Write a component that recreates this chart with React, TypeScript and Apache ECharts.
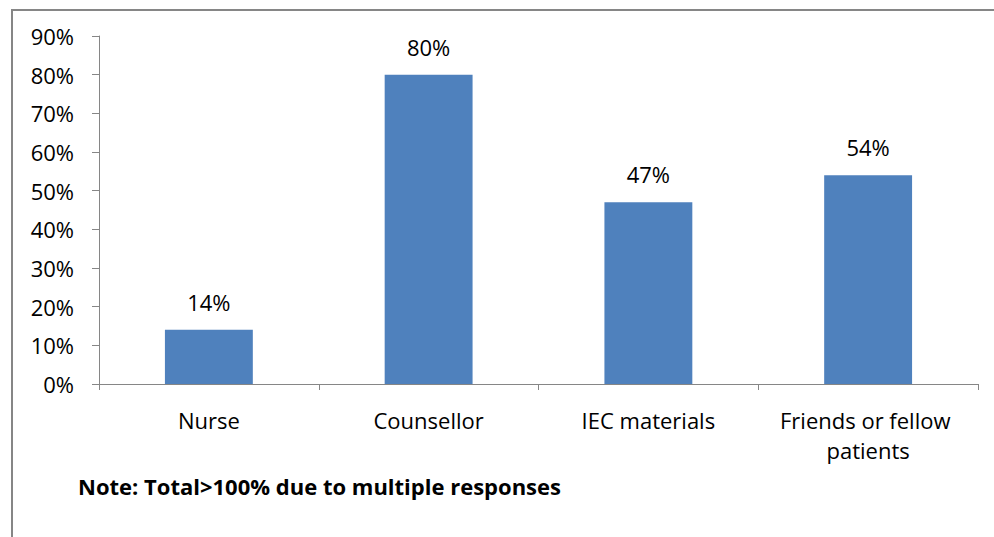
import React, { useEffect, useRef } from "react";
import * as echarts from "echarts";

const categories = ["Nurse", "Counsellor", "IEC materials", "Friends or fellow patients"];
const shares = [14, 80, 47, 54];
const yTicks = [0, 10, 20, 30, 40, 50, 60, 70, 80, 90];
const note = "Note: Total>100% due to multiple responses";

const FONT = "'Open Sans', 'Noto Sans', sans-serif";
const SIZE = 22;

export default function App() {
  const ref = useRef<HTMLDivElement>(null);

  useEffect(() => {
    if (!ref.current) return;
    const chart = echarts.init(ref.current, undefined, { renderer: "svg" });
    chart.setOption({
      animation: false,
      backgroundColor: "#ffffff",
      textStyle: { fontFamily: FONT },
      grid: { left: 99, right: 16, top: 36, bottom: 153, containLabel: false },
      graphic: [
        {
          type: "rect",
          shape: { x: 12, y: 10, width: 1000, height: 600 },
          style: { fill: "none", stroke: "#868686", lineWidth: 2 },
          silent: true,
        },
        {
          type: "text",
          left: 78,
          top: 475,
          style: {
            text: note,
            font: `bold ${SIZE}px ${FONT}`,
            fill: "#000000",
          },
        },
      ],
      xAxis: {
        type: "category",
        data: categories,
        axisLine: { lineStyle: { color: "#868686", width: 1 } },
        axisTick: { show: true, length: 6, alignWithLabel: false, lineStyle: { color: "#868686" } },
        axisLabel: {
          color: "#000000",
          fontSize: SIZE,
          fontFamily: FONT,
          margin: 21,
          lineHeight: 30,
          width: 210,
          overflow: "break",
          interval: 0,
        },
        splitLine: { show: false },
      },
      yAxis: {
        type: "value",
        min: yTicks[0],
        max: yTicks[yTicks.length - 1],
        interval: 10,
        axisLine: { show: true, lineStyle: { color: "#868686", width: 1 } },
        axisTick: { show: true, length: 7, lineStyle: { color: "#868686" } },
        axisLabel: {
          color: "#000000",
          fontSize: SIZE,
          fontFamily: FONT,
          margin: 25,
          formatter: "{value}%",
        },
        splitLine: { show: false },
      },
      series: [
        {
          type: "bar",
          data: shares,
          barWidth: "40%",
          itemStyle: { color: "#4F81BD" },
          label: {
            show: true,
            position: "top",
            distance: 17,
            formatter: "{c}%",
            color: "#000000",
            fontSize: SIZE,
            fontFamily: FONT,
          },
        },
      ],
    });
    return () => chart.dispose();
  }, []);

  return (
    <div
      ref={ref}
      style={{ position: "absolute", left: 0, top: 0, width: 994, height: 537 }}
    />
  );
}
